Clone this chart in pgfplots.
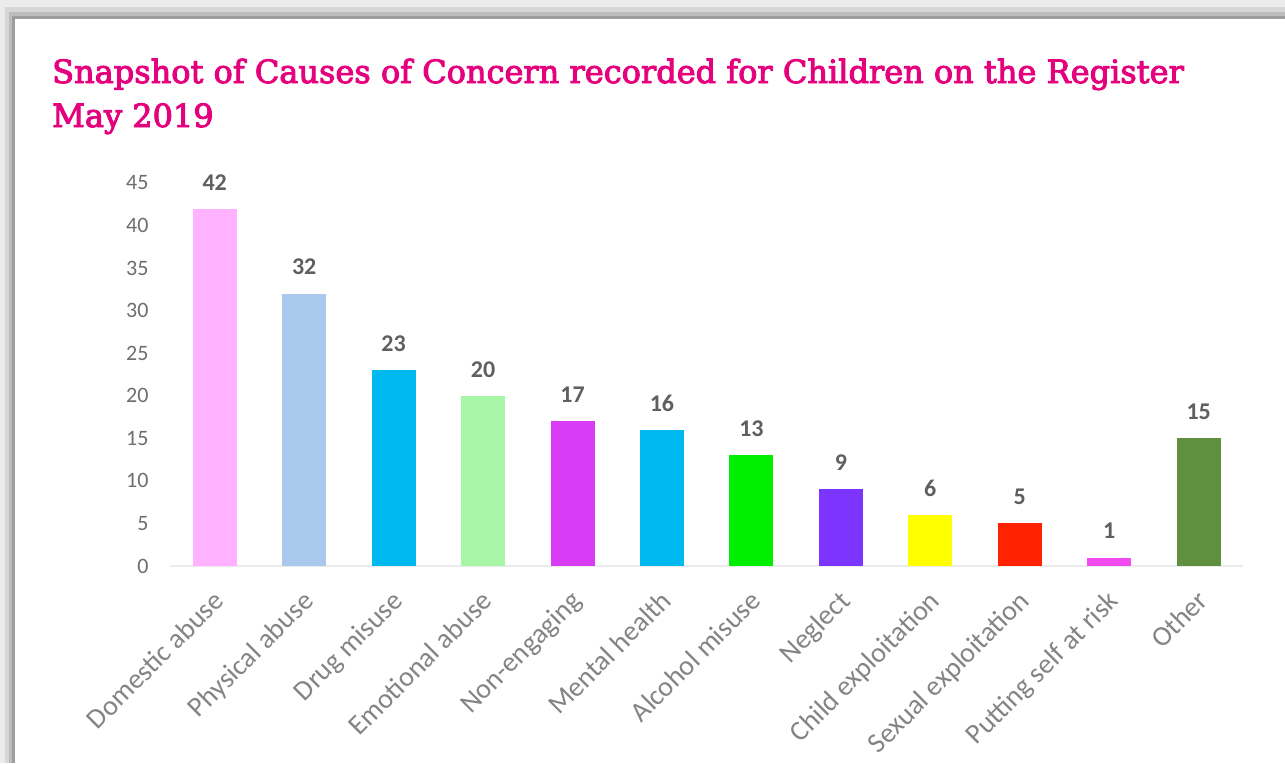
\documentclass[border=0pt]{standalone}
\usepackage{fontspec}
\setmainfont{Carlito}
\newfontfamily\titlefont[FakeBold=3]{DejaVu Serif}
\usepackage{pgfplots}
\pgfplotsset{compat=1.18}
\definecolor{ttl}{HTML}{E5007D}
\definecolor{valc}{HTML}{5F5F5F}
\definecolor{tickc}{HTML}{6E6E6E}
\definecolor{catc}{HTML}{848484}
\definecolor{c1}{HTML}{FFB2FF}
\definecolor{c2}{HTML}{A9CAEC}
\definecolor{c3}{HTML}{00B9F1}
\definecolor{c4}{HTML}{A8F7A8}
\definecolor{c5}{HTML}{D83CF5}
\definecolor{c6}{HTML}{00B9F1}
\definecolor{c7}{HTML}{00EE00}
\definecolor{c8}{HTML}{7B35FF}
\definecolor{c9}{HTML}{FFFF00}
\definecolor{c10}{HTML}{FF2200}
\definecolor{c11}{HTML}{F04CF0}
\definecolor{c12}{HTML}{5E9040}
\begin{document}
\begin{tikzpicture}[x=1pt,y=1pt]
\useasboundingbox (0pt,0pt) rectangle (1285pt,-763pt);
\fill[black!8] (0,0) rectangle (1285,-763);
\fill[black!16] (5,-7) rectangle (1285,-763);
\fill[black!26] (9,-12) rectangle (1285,-763);
\fill[black!38] (12,-16) rectangle (1285,-763);
\fill[white] (15,-19) rectangle (1285,-763);
\node[anchor=base west, inner sep=0, text=ttl, font=\titlefont\fontsize{32}{40}\selectfont] at (52,-83) {Snapshot of Causes of Concern recorded for Children on the Register};
\node[anchor=base west, inner sep=0, text=ttl, font=\titlefont\fontsize{32}{40}\selectfont] at (52,-127) {May 2019};
\begin{axis}[
  at={(170pt,-566pt)}, anchor=south west,
  scale only axis, width=1073.4pt, height=383pt,
  xmin=-0.5, xmax=11.5, ymin=0, ymax=45,
  ytick={0,5,...,45},
  xtick={0,...,11},
  xticklabels={Domestic abuse,Physical abuse,Drug misuse,Emotional abuse,Non-engaging,Mental health,Alcohol misuse,Neglect,Child exploitation,Sexual exploitation,Putting self at risk,Other},
  major tick length=0pt,
  clip=false,
  axis x line=bottom, axis y line=left,
  axis line style={-},
  y axis line style={draw=none},
  x axis line style={draw=black!8, line width=1.5pt},
  /pgf/number format/assume math mode=true,
  yticklabel style={font=\fontsize{22}{22}\selectfont, text=tickc, xshift=-18pt},
  xticklabel style={xshift=-3pt, yshift=-18pt, anchor=north east, rotate=45, font=\fontsize{28}{28}\selectfont, text=catc},
  ybar, bar width=44pt, bar shift=0pt,
  nodes near coords,
  every node near coord/.append style={font=\bfseries\fontsize{24}{24}\selectfont, text=valc, yshift=15pt},
]
\addplot[fill=c1, draw=none] coordinates {(0,42)};
\addplot[fill=c2, draw=none] coordinates {(1,32)};
\addplot[fill=c3, draw=none] coordinates {(2,23)};
\addplot[fill=c4, draw=none] coordinates {(3,20)};
\addplot[fill=c5, draw=none] coordinates {(4,17)};
\addplot[fill=c6, draw=none] coordinates {(5,16)};
\addplot[fill=c7, draw=none] coordinates {(6,13)};
\addplot[fill=c8, draw=none] coordinates {(7,9)};
\addplot[fill=c9, draw=none] coordinates {(8,6)};
\addplot[fill=c10, draw=none] coordinates {(9,5)};
\addplot[fill=c11, draw=none] coordinates {(10,1)};
\addplot[fill=c12, draw=none] coordinates {(11,15)};
\end{axis}
\end{tikzpicture}
\end{document}
